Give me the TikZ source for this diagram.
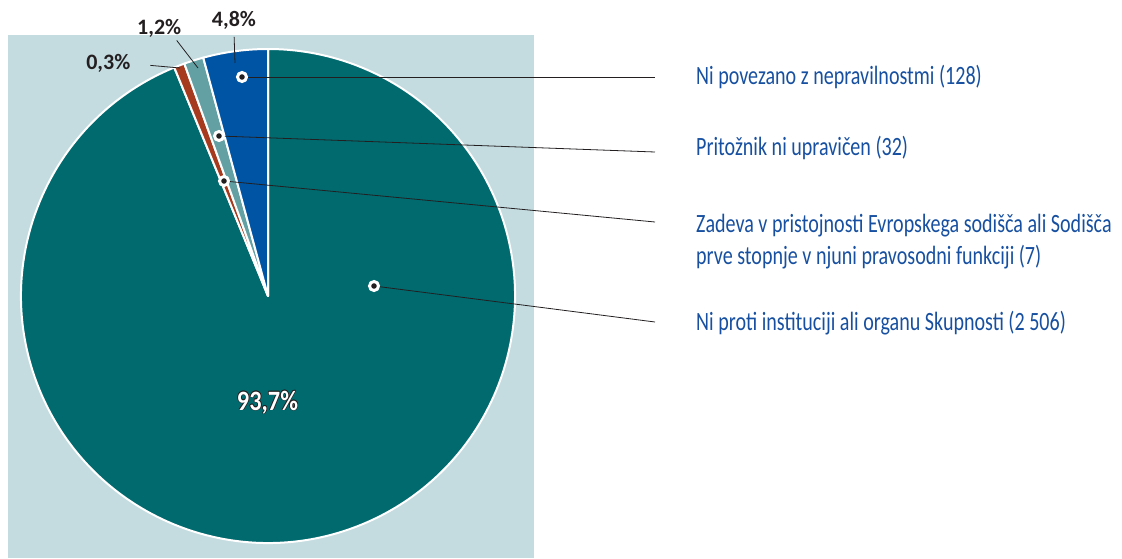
\documentclass[tikz,border=0pt]{standalone}
\usepackage{fontspec}
\setmainfont{Carlito}
\newfontfamily\legfont{Carlito}[FakeStretch=0.76]
\newfontfamily\bigfont{Carlito}[FakeStretch=0.87]
\usetikzlibrary{positioning}

\definecolor{backg}{HTML}{C4DCE0}
\definecolor{pieteal}{HTML}{006A6E}
\definecolor{pieblue}{HTML}{0054A4}
\definecolor{pielteal}{HTML}{62A0A4}
\definecolor{pierust}{HTML}{A63A1E}
\definecolor{ink}{HTML}{231F20}
\definecolor{legblue}{HTML}{1750A0}

\tikzset{
  slice/.style={draw=white, line width=2pt, line join=round},
  pct/.style={font=\fontsize{22}{26}\selectfont\bfseries, text=ink, inner sep=3pt, anchor=base},
  big/.style={font=\bigfont\fontsize{28}{32}\selectfont\bfseries, inner sep=0pt, anchor=base},
  leg/.style={font=\legfont\fontsize{26.4}{31.5}\selectfont, text=legblue, align=left, inner sep=0pt, anchor=base west},
  dot/.style={circle, fill=ink, draw=white, line width=3pt, minimum size=9pt, inner sep=0pt},
  lead/.style={draw=ink, line width=0.8pt}
}

\begin{document}
\begin{tikzpicture}[x=1pt, y=1pt]
\useasboundingbox (0,0) rectangle (1122,558);
\fill[backg] (8,0) rectangle (534,523);

% pie
\coordinate (c) at (268,262);
\def\R{247}
\foreach \a/\b/\col in {112.3/450/pieteal, 109.8/112.3/pierust, 105.2/109.8/pielteal, 90/105.2/pieblue}
  \filldraw[slice, fill=\col] (c) -- ++(\a:\R) arc[start angle=\a, end angle=\b, radius=\R] -- cycle;

% percentages
\node[pct] (l48) at (234,531.3) {4,8\%};
\node[pct] (l12) at (159.2,523.7) {1,2\%};
\node[pct] (l03) at (108.3,488) {0,3\%};
\coordinate (a48) at (235,495);
\coordinate (a12) at (198,490);
\coordinate (a03) at (180,490);
\draw[lead, shorten >=4pt] (a48) -- (l48.south);
\draw[lead] (a12) -- (l12.-35);
\draw[lead, shorten >=17pt] (a03) -- (l03.east);

\foreach \a in {0,45,...,315}
  \node[big, text=ink] (o\a) at ([shift={(\a:0.7)}]267.5,148) {93,7\%};
\node[big, text=white] (p93) at (267.5,148) {93,7\%};

% legend
\node[dot] (d1) at (242,481) {};
\node[dot] (d2) at (219,422) {};
\node[dot] (d3) at (224,377) {};
\node[dot] (d4) at (374,272) {};
\coordinate (e1) at (655,481);
\coordinate (e2) at (655,406);
\coordinate (e3) at (655,336);
\coordinate (e4) at (655,236);
\draw[lead] (d1) -- (e1);
\draw[lead] (d2) -- (e2);
\draw[lead] (d3) -- (e3);
\draw[lead] (d4) -- (e4);

\node[leg] (n1) at (696,473) {Ni povezano z nepravilnostmi (128)};
\node[leg] (n2) at (696,402) {Pritožnik ni upravičen (32)};
\node[leg] (n3) at (696,294) {Zadeva v pristojnosti Evropskega sodišča ali Sodišča\\prve stopnje v njuni pravosodni funkciji (7)};
\node[leg] (n4) at (696,228) {Ni proti instituciji ali organu Skupnosti (2 506)};
\end{tikzpicture}
\end{document}
